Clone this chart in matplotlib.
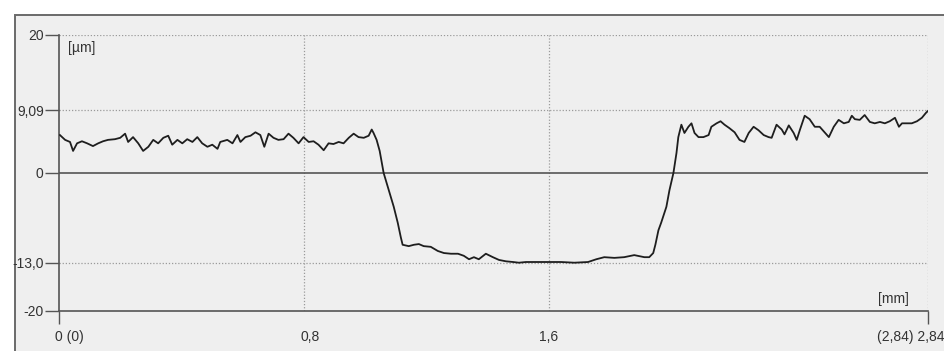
import matplotlib
matplotlib.use('Agg')
import matplotlib.pyplot as plt
from matplotlib.patches import Rectangle
import matplotlib.transforms as mtransforms

plt.rcParams['font.family'] = ['Liberation Sans', 'DejaVu Sans']

# profile: position [mm], height [um]
x_mm = [0.003, 0.020, 0.036, 0.046, 0.059, 0.075, 0.092, 0.111, 0.128, 0.144,
        0.160, 0.183, 0.200, 0.216, 0.226, 0.242, 0.259, 0.275, 0.292, 0.308,
        0.324, 0.341, 0.357, 0.370, 0.387, 0.403, 0.419, 0.436, 0.452, 0.468,
        0.485, 0.501, 0.518, 0.527, 0.550, 0.567, 0.583, 0.593, 0.609, 0.626,
        0.642, 0.658, 0.671, 0.685, 0.701, 0.717, 0.734, 0.750, 0.766, 0.783,
        0.799, 0.816, 0.832, 0.848, 0.865, 0.881, 0.897, 0.914, 0.930, 0.947,
        0.963, 0.979, 0.996, 1.012, 1.022, 1.028, 1.038, 1.048, 1.061, 1.078,
        1.094, 1.107, 1.117, 1.123, 1.143, 1.160, 1.176, 1.192, 1.215, 1.238,
        1.258, 1.281, 1.304, 1.323, 1.340, 1.356, 1.372, 1.395, 1.418, 1.438,
        1.461, 1.484, 1.503, 1.526, 1.553, 1.598, 1.641, 1.684, 1.729, 1.756,
        1.782, 1.815, 1.847, 1.880, 1.913, 1.929, 1.942, 1.949, 1.959, 1.968,
        1.985, 1.995, 2.008, 2.018, 2.024, 2.034, 2.044, 2.057, 2.067, 2.077,
        2.090, 2.106, 2.123, 2.132, 2.149, 2.162, 2.175, 2.191, 2.208, 2.224,
        2.240, 2.254, 2.270, 2.286, 2.303, 2.319, 2.329, 2.345, 2.362, 2.371,
        2.385, 2.401, 2.411, 2.421, 2.437, 2.453, 2.470, 2.486, 2.502, 2.516,
        2.532, 2.548, 2.565, 2.581, 2.591, 2.601, 2.617, 2.633, 2.650, 2.666,
        2.683, 2.699, 2.715, 2.732, 2.745, 2.755, 2.771, 2.787, 2.804, 2.820,
        2.833, 2.840]
height_um = [5.5, 4.8, 4.5, 3.2, 4.3, 4.6, 4.3, 3.9, 4.3, 4.6,
             4.8, 4.9, 5.1, 5.7, 4.5, 5.2, 4.3, 3.2, 3.8, 4.8,
             4.3, 5.1, 5.4, 4.1, 4.8, 4.3, 4.9, 4.5, 5.2, 4.3,
             3.8, 4.1, 3.5, 4.5, 4.8, 4.3, 5.5, 4.5, 5.2, 5.4,
             5.9, 5.5, 3.8, 5.7, 5.1, 4.8, 4.9, 5.7, 5.1, 4.3,
             5.2, 4.5, 4.6, 4.1, 3.3, 4.3, 4.2, 4.5, 4.3, 5.1,
             5.7, 5.2, 5.1, 5.4, 6.3, 5.8, 4.8, 3.2, 0.0, -2.5,
             -4.9, -7.2, -9.3, -10.4, -10.6, -10.4, -10.3, -10.6, -10.7, -11.3,
             -11.6, -11.7, -11.7, -12.0, -12.5, -12.2, -12.5, -11.7, -12.2, -12.6,
             -12.8, -12.9, -13.0, -12.9, -12.9, -12.9, -12.9, -13.0, -12.9, -12.5,
             -12.2, -12.3, -12.2, -11.9, -12.2, -12.2, -11.6, -10.4, -8.3, -7.2,
             -4.9, -2.5, 0.0, 2.9, 5.2, 7.0, 5.8, 6.7, 7.2, 5.8,
             5.2, 5.2, 5.5, 6.7, 7.2, 7.5, 7.0, 6.5, 5.9, 4.8,
             4.5, 5.8, 6.7, 6.2, 5.5, 5.2, 5.1, 7.0, 6.3, 5.6,
             6.9, 5.8, 4.8, 6.2, 8.3, 7.8, 6.7, 6.7, 5.9, 5.2,
             6.7, 7.7, 7.2, 7.4, 8.3, 7.8, 7.7, 8.4, 7.4, 7.2,
             7.4, 7.2, 7.5, 8.0, 6.7, 7.2, 7.2, 7.2, 7.5, 8.0,
             8.7, 9.0]

y_ticks = [-20, -13.0, 0, 9.09, 20]
y_labels = ['-20', '-13,0', '0', '9,09', '20']
x_ticks = [0, 0.8, 1.6, 2.84]
x_labels = ['0 (0)', '0,8', '1,6', '(2,84) 2,84']

W, H = 945, 351
fig = plt.figure(figsize=(W / 100, H / 100), dpi=100)
fig.patch.set_facecolor('white')
# grey panel with dark border
fig.patches.append(Rectangle((15 / W, -0.05), 1.1, (H - 15) / H + 0.05,
                             transform=fig.transFigure, facecolor='#efefef',
                             edgecolor='#6a6a6a', linewidth=1.4, zorder=-1))

ax = fig.add_axes([59 / W, 40 / H, (928 - 59) / W, (311 - 35) / H])
ax.set_facecolor('#efefef')
ax.plot(x_mm, height_um, color='#1e1e1e', linewidth=1.3, zorder=3)

ax.set_xlim(0, 2.84)
ax.set_ylim(-20, 20)
ax.set_yticks(y_ticks)
ax.set_yticklabels(y_labels)
ax.set_xticks(x_ticks)
ax.set_xticklabels(x_labels)

for v in [-13.0, 9.09, 20]:
    ax.axhline(v, color='#9a9a9a', linestyle=(0, (1, 1.5)), linewidth=0.9, zorder=1)
for v in [0.8, 1.6, 2.84]:
    ax.axvline(v, color='#9a9a9a', linestyle=(0, (1, 1.5)), linewidth=0.9, zorder=1)
ax.axhline(0, color='#555555', linewidth=1.2, zorder=2)

for s in ['top', 'right']:
    ax.spines[s].set_visible(False)
ax.spines['left'].set_color('#555555')
ax.spines['bottom'].set_color('#555555')
ax.spines['left'].set_linewidth(1.2)
ax.spines['bottom'].set_linewidth(1.2)

ax.tick_params(axis='y', direction='out', length=10, width=1.0, color='#555555',
               pad=1, labelsize=10, labelcolor='#333333')
ax.tick_params(axis='x', direction='out', length=9, width=1.0, color='#555555',
               pad=5, labelsize=10, labelcolor='#333333')
xt = ax.xaxis.get_major_ticks()
xt[1].tick1line.set_visible(False)
xt[2].tick1line.set_visible(False)

labs = ax.get_xticklabels()
labs[0].set_horizontalalignment('left')
labs[0].set_transform(labs[0].get_transform() +
                      mtransforms.ScaledTranslation(-4 / 100, 0, fig.dpi_scale_trans))
labs[1].set_transform(labs[1].get_transform() +
                      mtransforms.ScaledTranslation(6 / 100, 0, fig.dpi_scale_trans))
labs[3].set_transform(labs[3].get_transform() +
                      mtransforms.ScaledTranslation(-17 / 100, 0, fig.dpi_scale_trans))

fig.text(68 / W, 1 - 48 / H, '[µm]', fontsize=10, color='#333333', va='center', ha='left')
fig.text(878 / W, 1 - 299 / H, '[mm]', fontsize=10, color='#333333', va='center', ha='left')

fig.savefig('out.png', dpi=100, facecolor='white')
